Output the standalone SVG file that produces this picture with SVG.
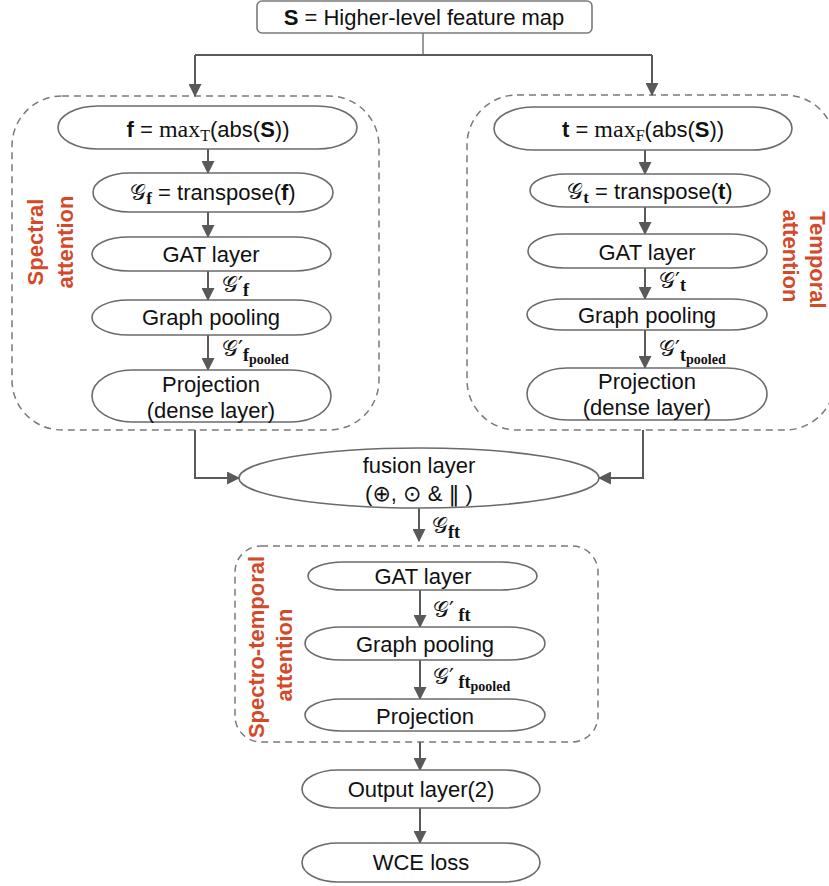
<svg xmlns="http://www.w3.org/2000/svg" width="829" height="886" viewBox="0 0 829 886">
<style>
.bg{fill:#ffffff}
.node{fill:#ffffff;stroke:#6b6b6b;stroke-width:1.6}
.box{fill:none;stroke:#7a7a7a;stroke-width:1.5;stroke-dasharray:7,5}
.t{font-family:"Liberation Sans",Arial,sans-serif;font-size:22px;fill:#111;text-anchor:middle}
.b{font-weight:bold}
.sf{font-family:"Liberation Serif","Times New Roman",serif}
.g{font-family:"DejaVu Serif","DejaVu Sans",serif;font-size:22px;fill:#111}
.red{font-family:"Liberation Sans",Arial,sans-serif;font-size:22px;font-weight:bold;fill:#d24a2a;text-anchor:middle}
.c{fill:none;stroke:#595959;stroke-width:2}
.ca{fill:none;stroke:#595959;stroke-width:2;marker-end:url(#ah)}
</style>
<defs>
<marker id="ah" viewBox="0 0 12 12" refX="11" refY="6" markerWidth="13" markerHeight="13" orient="auto" markerUnits="userSpaceOnUse">
<path d="M0,0 L12,6 L0,12 z" fill="#595959"/>
</marker>
</defs>
<rect class="bg" x="0" y="0" width="829" height="886"/>

<g id="containers">
<rect id="spectral-box" class="box" x="12" y="96" width="367" height="334" rx="50" ry="50"/>
<rect id="temporal-box" class="box" x="467" y="95" width="368" height="335" rx="50" ry="50"/>
<rect id="st-box" class="box" x="235" y="546" width="363" height="196" rx="26" ry="26"/>
<text class="red" transform="translate(43,242) rotate(-90)">Spectral</text>
<text class="red" transform="translate(73,242) rotate(-90)">attention</text>
<text class="red" transform="translate(810,260) rotate(90)">Temporal</text>
<text class="red" transform="translate(783,256) rotate(90)">attention</text>
<text class="red" transform="translate(264,647) rotate(-90)">Spectro-temporal</text>
<text class="red" transform="translate(292,655) rotate(-90)">attention</text>
</g>

<g id="connectors">
<path d="M423,33 V55" fill="none" stroke="#9a9a9a" stroke-width="2"/>
<path class="c" d="M195,55 H652"/>
<path class="ca" d="M195,55 V96"/>
<path class="ca" d="M652,55 V95"/>
<path class="ca" d="M208,149 V173"/>
<path class="ca" d="M208,212 V237"/>
<path class="ca" d="M208,271 V300"/>
<path class="ca" d="M208,335 V370"/>
<path class="ca" d="M645,150 V174"/>
<path class="ca" d="M645,207 V234"/>
<path class="ca" d="M645,268 V299"/>
<path class="ca" d="M645,330 V368"/>
<path class="ca" d="M195,430 V478 H239"/>
<path class="ca" d="M643,430 V478 H599"/>
<path class="ca" d="M419,508 V541"/>
<path class="ca" d="M420,590 V627"/>
<path class="ca" d="M420,660 V699"/>
<path class="ca" d="M420,742 V770"/>
<path class="ca" d="M420,808 V843"/>
</g>

<g id="edge-labels">
<text class="g" x="222" y="292">𝒢′<tspan class="sf b" font-size="18" dy="4">f</tspan></text>
<text class="g" x="222" y="356">𝒢′<tspan class="sf b" font-size="18" dy="5">f</tspan><tspan class="sf b" font-size="14" dy="3">pooled</tspan></text>
<text class="g" x="659" y="288">𝒢′<tspan class="sf b" font-size="18" dy="3">t</tspan></text>
<text class="g" x="659" y="356">𝒢′<tspan class="sf b" font-size="18" dy="5">t</tspan><tspan class="sf b" font-size="14" dy="3">pooled</tspan></text>
<text class="g" x="432" y="533">𝒢<tspan class="sf b" font-size="18" dy="5">ft</tspan></text>
<text class="g" x="433" y="617">𝒢′<tspan class="sf b" font-size="18" dy="4"> ft</tspan></text>
<text class="g" x="433" y="684">𝒢′<tspan class="sf b" font-size="18" dy="4"> ft</tspan><tspan class="sf b" font-size="14" dy="3">pooled</tspan></text>
</g>

<g id="n-input">
<rect class="node" x="257" y="1" width="335" height="32" rx="5" ry="5" style="stroke:#7a7a7a"/>
<text class="t" x="424" y="25"><tspan class="b">S</tspan> = Higher-level feature map</text>
</g>

<g id="n-f-max">
<rect class="node" x="58" y="106" width="299" height="43" rx="40" ry="21.5"/>
<text class="t" x="208" y="137"><tspan class="b">f</tspan> = <tspan class="sf" font-size="24">max</tspan><tspan class="sf" font-size="16" dy="4">T</tspan><tspan dy="-4">(abs(</tspan><tspan class="b">S</tspan>))</text>
</g>
<g id="n-f-transpose">
<rect class="node" x="93" y="173" width="240" height="39" rx="36" ry="19.5"/>
<text class="t" x="213" y="200"><tspan style="font-family:'DejaVu Serif','DejaVu Sans',serif">𝒢</tspan><tspan class="sf b" font-size="17" dy="4">f</tspan><tspan dy="-4"> = transpose(</tspan><tspan class="b">f</tspan>)</text>
</g>
<g id="n-f-gat">
<rect class="node" x="92" y="237" width="239" height="34" rx="36" ry="17"/>
<text class="t" x="211" y="262">GAT layer</text>
</g>
<g id="n-f-pool">
<rect class="node" x="92" y="300" width="239" height="35" rx="36" ry="17.5"/>
<text class="t" x="211" y="325">Graph pooling</text>
</g>
<g id="n-f-proj">
<rect class="node" x="92" y="370" width="239" height="52" rx="40" ry="26"/>
<text class="t" x="211" y="392">Projection</text>
<text class="t" x="211" y="418">(dense layer)</text>
</g>

<g id="n-t-max">
<rect class="node" x="494" y="107" width="298" height="43" rx="40" ry="21.5"/>
<text class="t" x="643" y="137"><tspan class="b">t</tspan> = <tspan class="sf" font-size="24">max</tspan><tspan class="sf" font-size="16" dy="4">F</tspan><tspan dy="-4">(abs(</tspan><tspan class="b">S</tspan>))</text>
</g>
<g id="n-t-transpose">
<rect class="node" x="530" y="174" width="240" height="33" rx="36" ry="16.5"/>
<text class="t" x="650" y="199"><tspan style="font-family:'DejaVu Serif','DejaVu Sans',serif">𝒢</tspan><tspan class="sf b" font-size="17" dy="4">t</tspan><tspan dy="-4"> = transpose(</tspan><tspan class="b">t</tspan>)</text>
</g>
<g id="n-t-gat">
<rect class="node" x="528" y="234" width="239" height="34" rx="36" ry="17"/>
<text class="t" x="647" y="260">GAT layer</text>
</g>
<g id="n-t-pool">
<rect class="node" x="527" y="299" width="240" height="31" rx="36" ry="15.5"/>
<text class="t" x="647" y="323">Graph pooling</text>
</g>
<g id="n-t-proj">
<rect class="node" x="527" y="368" width="240" height="52" rx="40" ry="26"/>
<text class="t" x="647" y="389">Projection</text>
<text class="t" x="647" y="415">(dense layer)</text>
</g>

<g id="n-fusion">
<ellipse class="node" cx="419" cy="478" rx="180" ry="30"/>
<text class="t" x="419" y="473">fusion layer</text>
<text class="t" x="419" y="501">(<tspan style="font-family:'DejaVu Sans',sans-serif">⊕</tspan>, <tspan style="font-family:'DejaVu Sans',sans-serif">⊙</tspan> &amp; <tspan style="font-family:'DejaVu Sans',sans-serif">‖</tspan> )</text>
</g>

<g id="n-st-gat">
<rect class="node" x="308" y="562" width="229" height="28" rx="36" ry="14"/>
<text class="t" x="423" y="584">GAT layer</text>
</g>
<g id="n-st-pool">
<rect class="node" x="305" y="627" width="240" height="33" rx="36" ry="16.5"/>
<text class="t" x="425" y="652">Graph pooling</text>
</g>
<g id="n-st-proj">
<rect class="node" x="305" y="699" width="240" height="32" rx="36" ry="16"/>
<text class="t" x="425" y="724">Projection</text>
</g>

<g id="n-output">
<rect class="node" x="302" y="770" width="238" height="38" rx="36" ry="19"/>
<text class="t" x="421" y="797">Output layer(2)</text>
</g>
<g id="n-loss">
<rect class="node" x="302" y="843" width="238" height="39" rx="36" ry="19.5"/>
<text class="t" x="421" y="870">WCE loss</text>
</g>
</svg>
